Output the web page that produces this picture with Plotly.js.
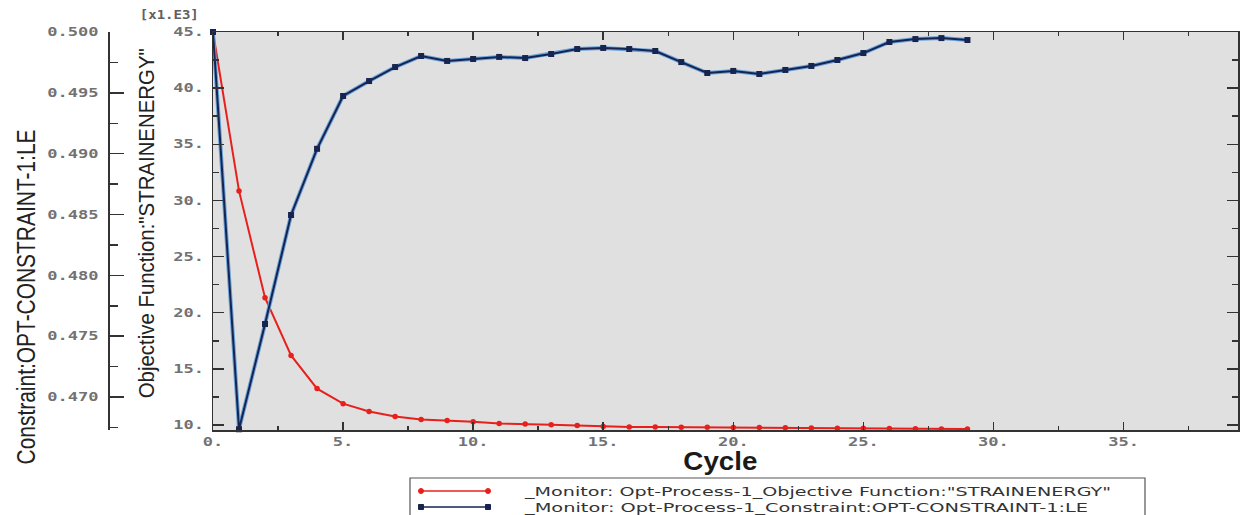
<!DOCTYPE html>
<html>
<head>
<meta charset="utf-8">
<script src="https://cdn.plot.ly/plotly-3.0.1.min.js"></script>
<style>
html,body{margin:0;padding:0;background:#fff;}
#chart{width:1247px;height:515px;}
</style>
</head>
<body>
<div id="chart"></div>
<script>
// ---- data ----
const cycles = [0,1,2,3,4,5,6,7,8,9,10,11,12,13,14,15,16,17,18,19,20,21,22,23,24,25,26,27,28,29];
const objectiveE3 = [45.0,30.85,21.33,16.2,13.24,11.9,11.2,10.75,10.48,10.39,10.3,10.13,10.1,10.03,9.95,9.86,9.83,9.82,9.8,9.8,9.78,9.77,9.75,9.74,9.72,9.7,9.68,9.66,9.65,9.64];
const constraintLE = [0.5000,0.46735,0.4760,0.48496,0.4904,0.49474,0.49597,0.49712,0.49803,0.49762,0.49778,0.49795,0.49786,0.49819,0.4986,0.49869,0.4986,0.49844,0.49753,0.49663,0.4968,0.49655,0.49688,0.49721,0.4977,0.49827,0.49918,0.49942,0.4995,0.49934];
const xTickVals = [0,5,10,15,20,25,30,35];
const xTickText = ["0.","5.","10.","15.","20.","25.","30.","35."];
const objTickVals = [10,15,20,25,30,35,40,45];
const objTickText = ["10.","15.","20.","25.","30.","35.","40.","45."];
const conTickVals = [0.470,0.475,0.480,0.485,0.490,0.495,0.500];
const conTickText = ["0.470","0.475","0.480","0.485","0.490","0.495","0.500"];
const seriesNames = ['_Monitor: Opt-Process-1_Objective Function:"STRAINENERGY"', '_Monitor: Opt-Process-1_Constraint:OPT-CONSTRAINT-1:LE'];
const xTitle = 'Cycle';
const objTitle = 'Objective Function:"STRAINENERGY"';
const conTitle = 'Constraint:OPT-CONSTRAINT-1:LE';
const scaleLabel = '[x1.E3]';

// ---- layout geometry ----
const W = 1247, H = 515;
const mL = 0, mR = 9, mT = 32, mB = 85;
const pw = W - mL - mR, ph = H - mT - mB;
const px = v => (v - mL) / pw;
const py = v => (H - mB - v) / ph;

const red = '#e8201c', navy = '#16244f', halo = '#6aa3dc';
const tickFont = {family: 'DejaVu Sans Mono, Liberation Mono, monospace', size: 12, color: '#727272', weight: 'bold'};
const titleFam = 'Liberation Sans, Arial, sans-serif';

const traces = [
  {x: cycles, y: constraintLE, yaxis: 'y2', mode: 'lines', line: {color: halo, width: 4}, hoverinfo: 'skip', showlegend: false, cliponaxis: false},
  {x: cycles, y: constraintLE, yaxis: 'y2', mode: 'lines+markers', name: seriesNames[1],
   line: {color: navy, width: 2}, marker: {symbol: 'square', size: 6, color: navy}, cliponaxis: false, showlegend: false},
  {x: cycles, y: objectiveE3, yaxis: 'y', mode: 'lines+markers', name: seriesNames[0],
   line: {color: red, width: 2}, marker: {symbol: 'circle', size: 5.5, color: red}, cliponaxis: false, showlegend: false}
];

// text stretch targets (px) for annotations, by index
const stretch = {};
const annotations = [];
function addAnn(a, len) { if (len) stretch[annotations.length] = len; annotations.push(a); }

addAnn({xref: 'paper', yref: 'paper', x: px(26), y: py(297), text: conTitle, textangle: -90, showarrow: false,
   font: {family: titleFam, size: 26, color: '#222'}, xanchor: 'center', yanchor: 'middle'}, 335);
addAnn({xref: 'paper', yref: 'paper', x: px(146), y: py(223), text: objTitle, textangle: -90, showarrow: false,
   font: {family: titleFam, size: 22, color: '#222'}, xanchor: 'center', yanchor: 'middle'}, 350);
addAnn({xref: 'paper', yref: 'paper', x: px(170), y: py(15), text: scaleLabel, showarrow: false,
   font: {family: tickFont.family, size: 12, color: '#606060', weight: 'bold'}, xanchor: 'center', yanchor: 'middle'}, 59);
addAnn({xref: 'paper', yref: 'paper', x: px(720), y: py(461), text: xTitle, showarrow: false,
   font: {family: titleFam, size: 25, color: '#1a1a1a', weight: 'bold'}, xanchor: 'center', yanchor: 'middle'}, 74);

// legend drawn manually
const legTop = 478, legLeft = 410, legRight = 1145;
const rows = [{y: 491, color: red, sym: 'circle', len: 586}, {y: 507, color: navy, sym: 'square', len: 563}];
const shapes = [
  {type: 'rect', xref: 'paper', yref: 'paper', x0: px(legLeft), x1: px(legRight), y0: py(legTop), y1: py(H + 10),
   line: {color: '#555', width: 1.2}, fillcolor: 'rgba(0,0,0,0)', layer: 'above'}
];
rows.forEach((r, i) => {
  shapes.push({type: 'line', xref: 'paper', yref: 'paper', x0: px(421), x1: px(488), y0: py(r.y), y1: py(r.y), line: {color: r.color, width: 1.5}});
  [421, 488].forEach(cx => {
    shapes.push({type: r.sym === 'circle' ? 'circle' : 'rect', xref: 'paper', yref: 'paper',
      x0: px(cx - 2.5), x1: px(cx + 2.5), y0: py(r.y + 2.5), y1: py(r.y - 2.5), fillcolor: r.color, line: {color: r.color, width: 1}});
  });
  addAnn({xref: 'paper', yref: 'paper', x: px(522), y: py(r.y), text: seriesNames[i], showarrow: false, align: 'left',
    xanchor: 'left', yanchor: 'middle', font: {family: 'DejaVu Sans, Verdana, sans-serif', size: 12.5, color: '#333'}}, r.len);
});

const layout = {
  width: W, height: H,
  margin: {l: mL, r: mR, t: mT, b: mB, pad: 0},
  paper_bgcolor: '#ffffff',
  plot_bgcolor: '#e0e0e0',
  showlegend: false,
  xaxis: {
    domain: [px(213), 1], range: [0, 39.4], anchor: 'y',
    tickvals: xTickVals, ticktext: xTickText, tickfont: tickFont,
    ticks: 'inside', ticklen: 8, tickcolor: '#333', tickwidth: 1.5,
    minor: {dtick: 2.5, ticks: 'inside', ticklen: 4, tickcolor: '#333', tickwidth: 1.5, showgrid: false},
    showline: true, linecolor: '#333', linewidth: 1.5, mirror: 'ticks',
    showgrid: false, zeroline: false
  },
  yaxis: {
    range: [9.555, 45], anchor: 'x',
    tickvals: objTickVals, ticktext: objTickText, tickfont: tickFont,
    ticks: 'inside', ticklen: 11, tickcolor: '#333', tickwidth: 1.5, ticklabelstandoff: 5,
    minor: {dtick: 2.5, ticks: 'inside', ticklen: 6, tickcolor: '#333', tickwidth: 1.5, showgrid: false},
    showline: true, linecolor: '#333', linewidth: 1.5, mirror: 'ticks',
    showgrid: false, zeroline: false
  },
  yaxis2: {
    range: [0.46729, 0.5], overlaying: 'y', anchor: 'free', side: 'left', position: px(108),
    tickvals: conTickVals, ticktext: conTickText, tickfont: tickFont,
    ticks: 'inside', ticklen: 14, tickcolor: '#333', tickwidth: 1.5, ticklabelstandoff: 7,
    minor: {dtick: 0.0025, ticks: 'inside', ticklen: 8, tickcolor: '#333', tickwidth: 1.5, showgrid: false},
    showline: true, linecolor: '#333', linewidth: 1.5,
    showgrid: false, zeroline: false
  },
  shapes: shapes,
  annotations: annotations
};

Plotly.newPlot('chart', traces, layout, {displayModeBar: false, staticPlot: true}).then(gd => {
  // widen the tick label glyphs like the original bitmap font
  gd.querySelectorAll('.xtick text, .ytick text, .y2tick text').forEach(t => {
    const L = t.getComputedTextLength();
    t.setAttribute('textLength', (L * 1.42).toFixed(1));
    t.setAttribute('lengthAdjust', 'spacingAndGlyphs');
  });
  gd.querySelectorAll('g.annotation').forEach(g => {
    const idx = +g.getAttribute('data-index');
    const t = g.querySelector('text.annotation-text');
    if (t && stretch[idx]) {
      t.setAttribute('textLength', stretch[idx]);
      t.setAttribute('lengthAdjust', 'spacingAndGlyphs');
      const bb = t.getBBox();
      const bg = g.querySelector('rect.bg');
      if (bg) {
        bg.setAttribute('x', bb.x); bg.setAttribute('y', bb.y);
        bg.setAttribute('width', bb.width); bg.setAttribute('height', bb.height);
      }
    }
  });
});
</script>
</body>
</html>
